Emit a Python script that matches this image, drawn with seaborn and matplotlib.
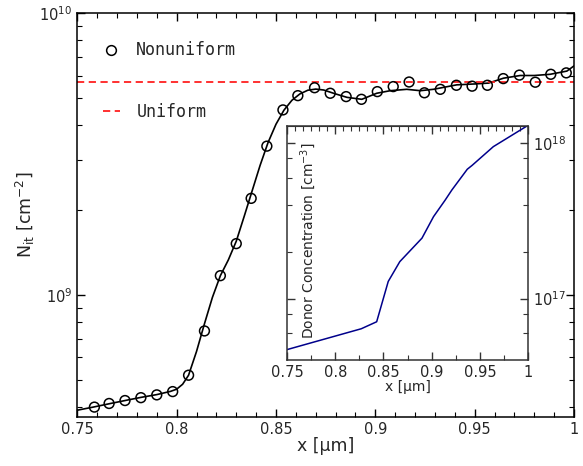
import numpy as np
import pandas as pd
import matplotlib
matplotlib.use("Agg")
import matplotlib.pyplot as plt
import seaborn as sns
from matplotlib.ticker import MultipleLocator, LogLocator, FuncFormatter, NullFormatter
from matplotlib.lines import Line2D

# ---- data ----
circ_x = [0.7586, 0.766, 0.774, 0.782, 0.790, 0.798, 0.806, 0.814, 0.822, 0.830,
          0.8375, 0.8454, 0.8535, 0.861, 0.8694, 0.8773, 0.8853, 0.893, 0.901, 0.909,
          0.917, 0.9247, 0.9327, 0.9408, 0.9487, 0.9564, 0.9644, 0.9725, 0.9805, 0.9883,
          0.9961]
circ_y = [4.00e8, 4.12e8, 4.22e8, 4.32e8, 4.42e8, 4.54e8, 5.19e8, 7.45e8, 1.17e9, 1.52e9,
          2.20e9, 3.37e9, 4.53e9, 5.09e9, 5.43e9, 5.19e9, 5.05e9, 4.94e9, 5.26e9, 5.48e9,
          5.69e9, 5.21e9, 5.36e9, 5.54e9, 5.50e9, 5.54e9, 5.85e9, 6.02e9, 5.68e9, 6.06e9,
          6.13e9]

curve_x = [0.750, 0.758, 0.766, 0.774, 0.782, 0.790, 0.797, 0.800, 0.803, 0.806,
           0.810, 0.814, 0.818, 0.822, 0.826, 0.830, 0.834, 0.838, 0.842, 0.846,
           0.850, 0.854, 0.858, 0.862, 0.866, 0.870, 0.874, 0.8797, 0.8857, 0.8932,
           0.9007, 0.9075, 0.9158, 0.9226, 0.9292, 0.941, 0.950, 0.957, 0.9645, 0.9729,
           0.980, 0.988, 0.9964, 1.000]
curve_y = [3.90e8, 4.00e8, 4.11e8, 4.22e8, 4.33e8, 4.43e8, 4.55e8, 4.63e8, 4.82e8, 5.19e8,
           6.30e8, 7.90e8, 9.80e8, 1.17e9, 1.33e9, 1.55e9, 1.90e9, 2.34e9, 2.88e9, 3.47e9,
           4.03e9, 4.52e9, 4.90e9, 5.16e9, 5.32e9, 5.37e9, 5.33e9, 5.17e9, 5.02e9, 4.94e9,
           5.19e9, 5.30e9, 5.36e9, 5.30e9, 5.36e9, 5.56e9, 5.60e9, 5.64e9, 5.87e9, 6.00e9,
           6.00e9, 6.06e9, 6.22e9, 6.49e9]

uniform_level = 5.7e9

donor_x = [0.750, 0.827, 0.843, 0.855, 0.867, 0.890, 0.902, 0.914, 0.921, 0.937,
           0.942, 0.964, 0.998]
donor_y = [4.7e16, 6.4e16, 7.1e16, 1.29e17, 1.73e17, 2.45e17, 3.37e17, 4.3e17, 5.0e17, 6.8e17,
           7.2e17, 9.5e17, 1.28e18]

df_c = pd.DataFrame({"x": circ_x, "y": circ_y})
df_l = pd.DataFrame({"x": curve_x, "y": curve_y})
df_d = pd.DataFrame({"x": donor_x, "y": donor_y})
df_u = pd.DataFrame({"x": [0.75, 1.0], "y": [uniform_level, uniform_level]})

sns.set_style("ticks")
plt.rcParams["font.family"] = ["DejaVu Sans"]

fig = plt.figure(figsize=(5.83, 4.66), dpi=100)
ax = fig.add_axes([0.1326, 0.1052, 0.852, 0.867])

sns.lineplot(data=df_l, x="x", y="y", ax=ax, color="black", lw=1.2, sort=False)
sns.lineplot(data=df_u, x="x", y="y", ax=ax, color="#ff2020", lw=1.3, linestyle=(0, (4, 2.5)))
sns.scatterplot(data=df_c, x="x", y="y", ax=ax, marker="o", s=50, facecolor="none",
                edgecolor="black", linewidth=1.1, zorder=5)

ax.set_yscale("log")
ax.set_xlim(0.75, 1.0)
ax.set_ylim(3.69e8, 1e10)
ax.xaxis.set_major_locator(MultipleLocator(0.05))
ax.xaxis.set_minor_locator(MultipleLocator(0.01))
ax.xaxis.set_major_formatter(FuncFormatter(lambda v, p: "%g" % round(v, 3)))
ax.yaxis.set_major_locator(LogLocator(base=10, numticks=10))
ax.yaxis.set_minor_locator(LogLocator(base=10, subs=np.arange(2, 10), numticks=20))
ax.yaxis.set_minor_formatter(NullFormatter())
ax.tick_params(which="both", direction="in", top=True, right=True, labelsize=10.5, color="black")
ax.tick_params(which="major", length=6, width=1)
ax.tick_params(which="minor", length=3.5, width=0.8)
for s in ax.spines.values():
    s.set_color("black")
    s.set_linewidth(1.1)
ax.set_xlabel("x [µm]", fontsize=12.5, labelpad=0)
ax.set_ylabel("N$_{\\mathrm{it}}$ [cm$^{-2}$]", fontsize=12.5, labelpad=2)

handles = [Line2D([], [], marker="o", ls="none", mfc="none", mec="black", ms=7, mew=1.1),
           Line2D([], [], color="#ff2020", lw=1.3, ls=(0, (4, 2.5)))]
leg = ax.legend(handles, ["Nonuniform", "Uniform"], loc="upper left",
                bbox_to_anchor=(0.035, 0.95), frameon=False, handlelength=1.0,
                handletextpad=1.0, labelspacing=2.6, borderpad=0,
                prop={"family": "DejaVu Sans Mono", "size": 12})

# ---- inset ----
axi = fig.add_axes([0.4923, 0.2275, 0.4134, 0.5021])
sns.lineplot(data=df_d, x="x", y="y", ax=axi, color="#00008b", lw=1.1, sort=False)
axi.set_yscale("log")
axi.set_xlim(0.75, 1.0)
axi.set_ylim(4.03e16, 1.29e18)
axi.xaxis.set_major_locator(MultipleLocator(0.05))
axi.xaxis.set_minor_locator(MultipleLocator(0.025))
axi.xaxis.set_major_formatter(FuncFormatter(lambda v, p: "%g" % round(v, 3)))
axi.yaxis.set_major_locator(LogLocator(base=10, numticks=10))
axi.yaxis.set_minor_locator(LogLocator(base=10, subs=(2, 4, 6, 8), numticks=20))
axi.yaxis.set_minor_formatter(NullFormatter())
axi.yaxis.tick_right()
axi.tick_params(which="both", direction="in", left=True, right=True, top=False,
                labelleft=False, labelright=True, labelsize=10.5, color="#333333")
axi.tick_params(which="major", length=6, width=1)
axi.tick_params(which="minor", length=3.5, width=0.8)
for s in axi.spines.values():
    s.set_color("#333333")
    s.set_linewidth(1.1)
secx = axi.secondary_xaxis("top")
secx.xaxis.set_major_locator(MultipleLocator(0.05))
secx.xaxis.set_minor_locator(MultipleLocator(0.05 / 6))
secx.tick_params(which="both", direction="in", labeltop=False, color="#333333")
secx.tick_params(which="major", length=6, width=1)
secx.tick_params(which="minor", length=3.5, width=0.8)
secx.spines["top"].set_color("#333333")
axi.set_xlabel("x [µm]", fontsize=10, labelpad=0)
axi.set_ylabel("Donor Concentration [cm$^{-3}$]", fontsize=10)
axi.yaxis.set_label_position("left")
axi.yaxis.set_label_coords(0.128, 0.51)

fig.savefig("out.png", dpi=100)
